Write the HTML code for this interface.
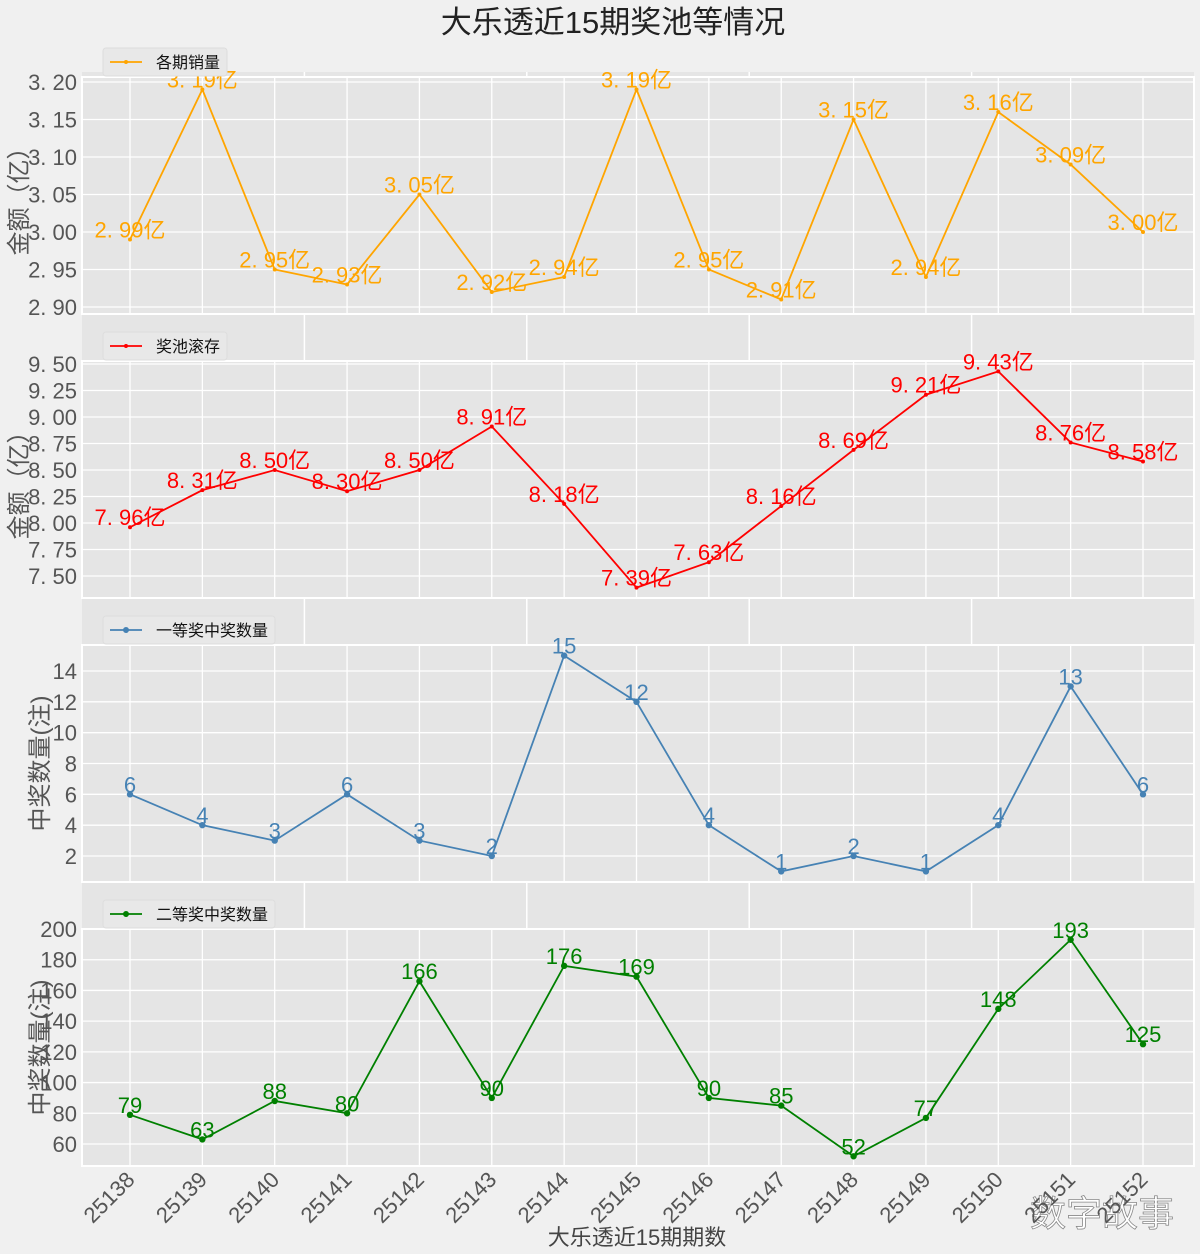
<!DOCTYPE html>
<html><head><meta charset="utf-8"><style>
body{margin:0;background:#f0f0f0;}
svg{display:block;font-family:"Liberation Sans","Noto Sans CJK SC",sans-serif;}
</style></head><body>
<svg id="chart" width="1200" height="1254" viewBox="0 0 1200 1254" xmlns="http://www.w3.org/2000/svg">
<rect x="0" y="0" width="1200" height="1254" fill="#f0f0f0"/>
<text x="613" y="33" text-anchor="middle" font-size="31" fill="#222">大乐透近15期奖池等情况</text>
<rect x="82" y="72" width="1112" height="1094" fill="#e5e5e5"/>
<g id="bggrid"></g>
<g id="panels"></g>
<text x="637" y="1245" text-anchor="middle" font-size="22" fill="#444">大乐透近15期期数</text>
<text x="1102" y="1226" text-anchor="middle" font-size="36" fill="#fff" stroke="#888" stroke-width="0.8">数字故事</text>
</svg>
<script>
const periods = ["25138","25139","25140","25141","25142","25143","25144","25145","25146","25147","25148","25149","25150","25151","25152"];
const sales = [2.99,3.19,2.95,2.93,3.05,2.92,2.94,3.19,2.95,2.91,3.15,2.94,3.16,3.09,3.00];
const pool = [7.96,8.31,8.50,8.30,8.50,8.91,8.18,7.39,7.63,8.16,8.69,9.21,9.43,8.76,8.58];
const firstPrize = [6,4,3,6,3,2,15,12,4,1,2,1,4,13,6];
const secondPrize = [79,63,88,80,166,90,176,169,90,85,52,77,148,193,125];
const salesTicks = [2.90,2.95,3.00,3.05,3.10,3.15,3.20];
const poolTicks = [7.50,7.75,8.00,8.25,8.50,8.75,9.00,9.25,9.50];
const firstTicks = [2,4,6,8,10,12,14];
const secondTicks = [60,80,100,120,140,160,180,200];

const NS="http://www.w3.org/2000/svg";
function mk(tag,attrs,parent){const e=document.createElementNS(NS,tag);for(const k in attrs)e.setAttribute(k,attrs[k]);parent.appendChild(e);return e;}
const X0=130, XSTEP=(1143-130)/14;
function xs(i){return X0+i*XSTEP;}

const bg=document.getElementById('bggrid');
[0.2,0.4,0.6,0.8].forEach(f=>{
  const l=mk('line',{x1:82+f*1112,x2:82+f*1112,y1:72,y2:1166,stroke:'#fff','stroke-width':1.5},bg);
  
  
});

const panels=[
 {name:'sales',data:sales,ticks:salesTicks,top:77,v0:2.90,p0:307,v1:3.20,p1:82,color:'orange',legend:'各期销量',ylabel:'金额（亿）',fmt:v=>v.toFixed(2)+'亿',marker:'plus',tf:v=>v.toFixed(2).replace('.','. ')},
 {name:'pool',data:pool,ticks:poolTicks,top:361,v0:7.50,p0:576,v1:9.50,p1:364,color:'red',legend:'奖池滚存',ylabel:'金额（亿）',fmt:v=>v.toFixed(2)+'亿',marker:'plus',tf:v=>v.toFixed(2).replace('.','. ')},
 {name:'first-prize',data:firstPrize,ticks:firstTicks,top:645,v0:2,p0:856,v1:14,p1:671,color:'steelblue',legend:'一等奖中奖数量',ylabel:'中奖数量(注)',fmt:v=>String(v),marker:'circle',tf:v=>String(v)},
 {name:'second-prize',data:secondPrize,ticks:secondTicks,top:929,v0:60,p0:1144,v1:200,p1:929,color:'green',legend:'二等奖中奖数量',ylabel:'中奖数量(注)',fmt:v=>String(v),marker:'circle',tf:v=>String(v)}
];
const root=document.getElementById('panels');
panels.forEach((p,pi)=>{
  const H=237, bottom=p.top+H;
  const ys=v=>p.p0+(v-p.v0)*(p.p1-p.p0)/(p.v1-p.v0);
  const g=mk('g',{},root);
  
  
  const r=mk('rect',{x:82,y:p.top,width:1112,height:H,fill:'#e5e5e5',stroke:'#fff','stroke-width':2},g);
  
  
  periods.forEach((_,i)=>{
    const l=mk('line',{x1:xs(i),x2:xs(i),y1:p.top,y2:bottom,stroke:'#fff','stroke-width':1.3},g);
    
    
  });
  p.ticks.forEach(t=>{
    const y=ys(t);
    const l=mk('line',{x1:82,x2:1194,y1:y,y2:y,stroke:'#fff','stroke-width':1.3},g);
    
    
    const tx=mk('text',{x:77,y:y+8,'text-anchor':'end','font-size':22,fill:'#555'},g);
    tx.textContent=p.tf(t);
    
    
  });
  const yl=mk('text',{x:0,y:0,'text-anchor':'middle','font-size':24,fill:'#555',transform:`translate(${pi<2?27:48},${p.top+H/2}) rotate(-90)`},g);
  yl.textContent=p.ylabel;
  
  
  const pts=p.data.map((v,i)=>xs(i)+','+ys(v)).join(' ');
  const line=mk('polyline',{points:pts,fill:'none',stroke:p.color,'stroke-width':1.8},g);
  
  
  p.data.forEach((v,i)=>{
    const cx=xs(i), cy=ys(v);
    let m;
    if(p.marker==='circle') m=mk('circle',{cx:cx,cy:cy,r:3.2,fill:p.color},g);
    else m=mk('circle',{cx:cx,cy:cy,r:2,fill:p.color},g);
    
    
    const t=mk('text',{x:cx,y:cy-2,'text-anchor':'middle','font-size':22,fill:p.color},g);
    t.textContent=p.fmt(v).replace('.','. ');
    
    
  });
  const lg=mk('g',{},g);
  
  
  const w=p.legend.length*16+60;
  mk('rect',{x:103,y:p.top-29,width:w,height:28,rx:3,fill:'#e8e8e8',stroke:'#ddd'},lg);
  mk('line',{x1:110,x2:142,y1:p.top-15,y2:p.top-15,stroke:p.color,'stroke-width':1.8},lg);
  mk('circle',{cx:126,cy:p.top-15,r:p.marker==='circle'?3:2,fill:p.color},lg);
  const lt=mk('text',{x:156,y:p.top-9,'font-size':16,fill:'#111'},lg);
  lt.textContent=p.legend;
});
const xg=mk('g',{},document.getElementById('chart'));


periods.forEach((lab,i)=>{
  const t=mk('text',{x:0,y:0,'text-anchor':'end','font-size':22,fill:'#555',transform:`translate(${xs(i)+6},${1181}) rotate(-45)`},xg);
  t.textContent=lab;
  
  
});
</script>
</body></html>
